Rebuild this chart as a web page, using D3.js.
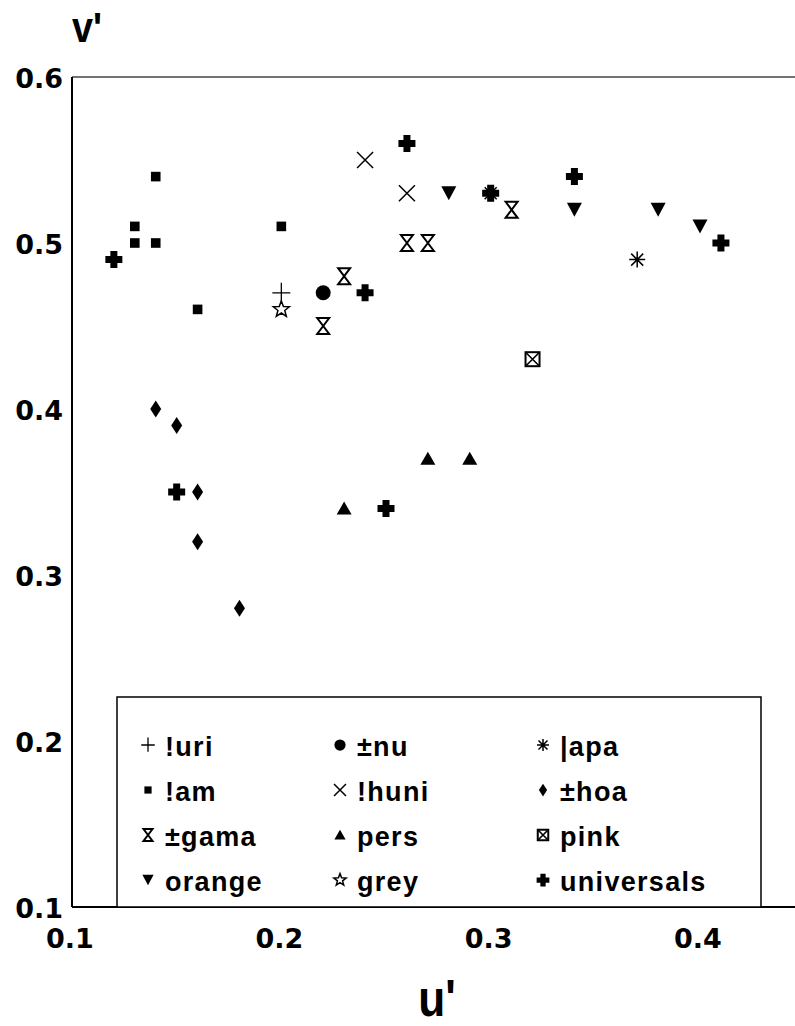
<!DOCTYPE html>
<html><head><meta charset="utf-8">
<script src="https://cdn.jsdelivr.net/npm/d3@7"></script>
<style>body{margin:0;background:#fff}svg{display:block}</style>
</head><body><svg id="c" width="795" height="1026"></svg>
<script>
// ---- data (u', v') ----
const luri = [[0.20,0.47]];
const nu = [[0.22,0.47]];
const apa = [[0.37,0.49],[0.30,0.53]];
const lam = [[0.14,0.54],[0.13,0.51],[0.13,0.50],[0.14,0.50],[0.16,0.46],[0.20,0.51]];
const huni = [[0.24,0.55],[0.26,0.53]];
const hoa = [[0.14,0.40],[0.15,0.39],[0.16,0.35],[0.16,0.32],[0.18,0.28]];
const gama = [[0.22,0.45],[0.23,0.48],[0.26,0.50],[0.27,0.50],[0.31,0.52]];
const pers = [[0.23,0.34],[0.27,0.37],[0.29,0.37]];
const pink = [[0.32,0.43]];
const orange = [[0.28,0.53],[0.34,0.52],[0.38,0.52],[0.40,0.51]];
const grey = [[0.20,0.46]];
const universals = [[0.12,0.49],[0.15,0.35],[0.24,0.47],[0.25,0.34],[0.26,0.56],[0.30,0.53],[0.34,0.54],[0.41,0.50]];

const seriesNames = ["!uri","±nu","|apa","!am","!huni","±hoa","±gama","pers","pink","orange","grey","universals"];
const seriesData  = [luri, nu, apa, lam, huni, hoa, gama, pers, pink, orange, grey, universals];
const seriesSym   = ["plus","circle","asterisk","square","x","diamond","hourglass","triUp","boxX","triDown","star","cross"];

const xTicks = [0.1,0.2,0.3,0.4];
const yTicks = [0.1,0.2,0.3,0.4,0.5,0.6];

// ---- scales ----
const x = d3.scaleLinear().domain([0.1,0.4]).range([72,700]);
const y = d3.scaleLinear().domain([0.1,0.6]).range([907,77]);

const svg = d3.select("#c");

// frame
svg.append("line").attr("x1",x(0.1)).attr("x2",800).attr("y1",y(0.6)).attr("y2",y(0.6))
  .attr("stroke","#444").attr("stroke-width",1.5);
svg.append("line").attr("x1",x(0.1)).attr("x2",800).attr("y1",y(0.1)).attr("y2",y(0.1))
  .attr("stroke","#000").attr("stroke-width",2);
svg.append("line").attr("x1",x(0.1)).attr("x2",x(0.1)).attr("y1",y(0.6)).attr("y2",y(0.1))
  .attr("stroke","#000").attr("stroke-width",2);

// tick labels
const tickFont = "'DejaVu Sans', sans-serif";
svg.append("g").selectAll("text").data(yTicks).join("text")
  .attr("x", 63).attr("y", d => y(d) + 11)
  .attr("text-anchor","end").attr("font-family",tickFont).attr("font-weight","bold")
  .attr("font-size",27).text(d => d3.format(".1f")(d));
svg.append("g").selectAll("text").data(xTicks).join("text")
  .attr("x", d => x(d) - 2).attr("y", 948)
  .attr("text-anchor","middle").attr("font-family",tickFont).attr("font-weight","bold")
  .attr("font-size",27).text(d => d3.format(".1f")(d));

// axis titles
svg.append("text").attr("transform","translate(72,42) scale(0.9,1)")
  .attr("font-family","'Liberation Sans', Arial, sans-serif").attr("font-weight","bold")
  .attr("font-size",42).text("v'");
svg.append("text").attr("transform","translate(437,1016) scale(0.85,1)")
  .attr("text-anchor","middle")
  .attr("font-family","'Liberation Sans', Arial, sans-serif").attr("font-weight","bold")
  .attr("font-size",52).text("u'");

// ---- symbols ----
function drawSymbol(g, type, k) {
  const s = g.append("g").attr("transform", `scale(${k})`);
  switch (type) {
    case "plus":
      s.append("path").attr("d","M-9,0H9M0,-10V9").attr("stroke","#000").attr("stroke-width",1.3/k).attr("fill","none"); break;
    case "square":
      s.append("rect").attr("x",-4.8).attr("y",-4.8).attr("width",9.6).attr("height",9.6).attr("fill","#000"); break;
    case "circle":
      s.append("circle").attr("r",7.5).attr("fill","#000"); break;
    case "x":
      s.append("path").attr("d","M-8,-8L8,8M-8,8L8,-8").attr("stroke","#000").attr("stroke-width",1.5/k).attr("fill","none"); break;
    case "diamond":
      s.append("path").attr("d","M0,-8.5L5.5,0L0,8.5L-5.5,0Z").attr("fill","#000"); break;
    case "hourglass":
      s.append("path").attr("d","M-6,-8H6L-6,8H6Z").attr("stroke","#000").attr("stroke-width",2/k)
        .attr("stroke-linejoin","miter").attr("fill","#fff"); break;
    case "triUp":
      s.append("path").attr("d","M0,-7L7.5,6H-7.5Z").attr("fill","#000"); break;
    case "triDown":
      s.append("path").attr("d","M-7.5,-7H7.5L0,7Z").attr("fill","#000"); break;
    case "boxX":
      s.append("rect").attr("x",-7).attr("y",-7).attr("width",14).attr("height",14)
        .attr("fill","#fff").attr("stroke","#000").attr("stroke-width",2/k);
      s.append("path").attr("d","M-7,-7L7,7M-7,7L7,-7").attr("stroke","#000").attr("stroke-width",1.6/k); break;
    case "star": {
      const pts = d3.range(10).map(i => {
        const r = i % 2 === 0 ? 8.5 : 3.6, a = -Math.PI/2 + i*Math.PI/5;
        return [r*Math.cos(a), r*Math.sin(a)];
      });
      s.append("path").attr("d", d3.line()(pts) + "Z").attr("fill","#fff")
        .attr("stroke","#000").attr("stroke-width",1.5/k); break;
    }
    case "asterisk":
      s.append("path").attr("d","M-8,0H8M0,-8V8M-6,-6L6,6M-6,6L6,-6")
        .attr("stroke","#000").attr("stroke-width",1.5/k).attr("fill","none"); break;
    case "cross":
      s.append("path").attr("d","M-3.5,-8.5H3.5V-3.5H8.5V3.5H3.5V8.5H-3.5V3.5H-8.5V-3.5H-3.5Z").attr("fill","#000"); break;
  }
}

// points
const pg = svg.append("g");
seriesData.forEach((arr, i) => {
  arr.forEach(p => {
    const g = pg.append("g").attr("transform", `translate(${x(p[0])},${y(p[1])})`);
    drawSymbol(g, seriesSym[i], 1);
  });
});

// ---- legend ----
const lg = svg.append("g");
lg.append("rect").attr("x",117).attr("y",697).attr("width",644).attr("height",210)
  .attr("fill","#fff").attr("stroke","#000").attr("stroke-width",1.5);
const colX = [148, 340, 543];
const rowY = [747, 792, 837, 882];
seriesNames.forEach((name, i) => {
  const c = i % 3, r = Math.floor(i / 3);
  const g = lg.append("g").attr("transform", `translate(${colX[c]},${rowY[r] - 2})`);
  drawSymbol(g, seriesSym[i], 0.75);
  lg.append("text").attr("x", colX[c] + 17).attr("y", rowY[r] + 9)
    .attr("font-family","'Liberation Sans', Arial, sans-serif").attr("font-weight","bold")
    .attr("font-size",27).attr("letter-spacing",1.3).text(name);
});
</script>
</body></html>
